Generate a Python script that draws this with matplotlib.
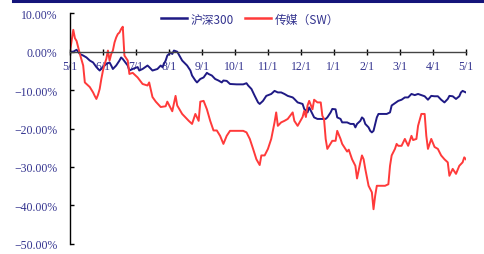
# -*- coding: utf-8 -*-
#####################################################################
# MODULES
import matplotlib
matplotlib.use('Agg')
import matplotlib.pyplot as plt
from matplotlib.lines import Line2D
from matplotlib.ticker import FuncFormatter

#####################################################################
#  DATA (day index ~ 20 trading days per month, values in %)
#
MESES = ['5/1', '6/1', '7/1', '8/1', '9/1', '10/1', '11/1',
         '12/1', '1/1', '2/1', '3/1', '4/1', '5/1']

DIA_HS300 = [0, 2, 4, 6, 8, 10, 12, 14, 16, 18, 20, 22, 24, 25, 26, 28, 30, 31,
             32, 35, 36, 38, 41, 42, 44, 47, 48, 50, 53, 55, 56, 58, 59, 61, 62,
             63, 65, 67, 68, 71, 73, 74, 76, 77, 79, 81, 83, 84, 86, 88, 90, 92,
             93, 95, 97, 101, 105, 107, 108, 110, 112, 114, 115, 117, 119, 122,
             124, 126, 128, 130, 132, 135, 136, 138, 141, 142, 144, 145, 147,
             148, 150, 153, 155, 156, 158, 159, 161, 162, 164, 165, 168, 170,
             172, 173, 174, 176, 177, 178, 179, 181, 182, 183, 184, 185, 186,
             187, 189, 192, 194, 195, 197, 199, 201, 203, 205, 207, 209, 211,
             213, 215, 217, 219, 221, 223, 225, 227, 229, 230, 232, 234, 236,
             237, 238, 240]
HS300 = [0.0, 0.0, 0.5, -0.6, -1.0, -1.5, -2.3, -2.8, -4.0, -4.9, -4.0, -3.2,
         -2.8, -3.6, -4.5, -3.6, -2.3, -1.5, -1.9, -3.6, -4.9, -4.5, -4.0, -4.9,
         -4.5, -3.6, -4.0, -4.9, -4.5, -3.6, -4.0, -2.3, -1.0, -0.2, -0.6, 0.3,
         0.0, -1.5, -2.3, -3.6, -4.9, -6.2, -7.5, -8.0, -7.1, -6.7, -5.5, -5.8,
         -6.2, -7.1, -7.5, -8.0, -7.5, -7.6, -8.4, -8.5, -8.5, -8.2, -8.8, -9.7,
         -11.5, -13.2, -13.6, -12.8, -11.5, -11.0, -10.2, -10.6, -10.6, -11.0,
         -11.5, -11.9, -12.3, -13.2, -13.6, -14.9, -15.8, -14.5, -16.2, -17.1,
         -17.5, -17.5, -17.5, -17.1, -15.8, -14.9, -15.0, -17.1, -17.5, -18.4,
         -18.4, -18.8, -18.8, -19.7, -18.8, -18.0, -17.1, -17.5, -18.8, -19.7,
         -20.6, -21.0, -20.6, -18.8, -17.1, -16.2, -16.2, -16.2, -15.8, -14.0,
         -13.4, -12.8, -12.5, -11.9, -11.9, -11.0, -11.3, -11.0, -11.3, -11.6,
         -12.5, -11.5, -11.6, -11.6, -12.5, -13.2, -12.3, -11.5, -11.6, -12.3,
         -11.6, -10.6, -10.2, -10.6]

DIA_MIDIA = [0, 2, 3, 4, 6, 8, 9, 10, 12, 14, 15, 16, 17, 18, 19, 20, 21, 22,
             23, 24, 25, 26, 27, 28, 29, 30, 31, 32, 33, 35, 36, 38, 41, 44, 47,
             48, 50, 52, 55, 58, 59, 62, 64, 65, 68, 72, 74, 76, 78, 79, 81, 83,
             85, 87, 89, 91, 93, 95, 97, 99, 103, 105, 107, 109, 111, 113, 115,
             116, 118, 120, 122, 124, 125, 126, 128, 130, 132, 135, 136, 138,
             141, 142, 143, 144, 145, 147, 148, 150, 152, 153, 154, 155, 156,
             159, 161, 162, 164, 165, 168, 169, 171, 173, 174, 176, 177, 178,
             179, 181, 183, 184, 185, 186, 188, 191, 193, 194, 195, 197, 198,
             199, 201, 203, 205, 207, 208, 210, 211, 213, 215, 216, 217, 219,
             221, 223, 225, 227, 229, 230, 232, 234, 236, 238, 239, 240]
MIDIA = [0.0, 5.7, 3.5, 2.8, -0.6, -3.6, -8.0, -8.4, -9.2, -10.6, -11.5, -12.3,
         -11.2, -9.7, -7.1, -4.9, -3.2, -1.9, 0.3, -2.3, -0.6, 0.3, 2.4, 3.7,
         4.6, 5.0, 5.9, 6.5, -1.0, -2.3, -5.8, -5.5, -6.7, -8.4, -8.8, -8.0,
         -11.8, -13.0, -14.4, -14.2, -13.0, -15.5, -11.5, -14.0, -16.2, -18.0,
         -18.8, -16.2, -18.0, -13.0, -12.8, -15.0, -18.0, -20.5, -20.5, -21.9,
         -24.0, -21.9, -20.6, -20.6, -20.6, -20.6, -21.0, -22.7, -25.3, -28.0,
         -29.5, -27.0, -27.0, -25.3, -22.7, -18.4, -15.8, -19.3, -18.4, -18.0,
         -17.5, -15.8, -18.0, -19.3, -17.0, -15.4, -17.0, -14.0, -12.8, -15.0,
         -12.5, -13.2, -13.2, -16.7, -17.5, -22.7, -25.3, -23.2, -23.2, -20.6,
         -22.7, -24.0, -26.0, -25.5, -28.0, -29.7, -33.0, -28.8, -27.0, -28.0,
         -30.5, -34.9, -36.6, -41.0, -37.5, -34.9, -34.9, -34.9, -34.5, -29.7,
         -27.0, -25.3, -24.0, -24.5, -24.5, -22.7, -24.5, -21.9, -23.0, -22.7,
         -19.3, -16.2, -16.2, -21.9, -25.3, -22.7, -24.8, -25.3, -27.0, -28.0,
         -28.8, -32.3, -30.5, -31.8, -29.7, -28.8, -27.5, -28.0]

NOMES = ['沪深300', '传媒（SW）']

AZUL = '#1f1a85'
VERMELHO = '#ff3a3a'
TEXTO = '#33338f'


#####################################################################
def pct(v, pos):
    '''(float, int) -> str  formata o rotulo do eixo y'''
    s = '%.2f%%' % abs(v)
    if v < 0:
        s = '\u2212' + s
    return s


#-------------------------------------------------------------
def plot():
    plt.rcParams['font.family'] = ['Liberation Serif', 'Noto Sans CJK SC']

    fig = plt.figure(figsize=(4.84, 2.55), dpi=100)
    ax = fig.add_axes([0.1446, 0.040, 0.818, 0.904])

    # linhas
    ax.plot(DIA_HS300, HS300, color=AZUL, linewidth=1.4, label=NOMES[0])
    ax.plot(DIA_MIDIA, MIDIA, color=VERMELHO, linewidth=1.4, label=NOMES[1])

    # eixos
    ax.set_xlim(0, 240)
    ax.set_ylim(-50, 10)
    ax.set_yticks(range(-50, 11, 10))
    ax.yaxis.set_major_formatter(FuncFormatter(pct))
    ax.set_xticks(range(0, 241, 20))
    ax.set_xticklabels(MESES)

    ax.spines['top'].set_visible(False)
    ax.spines['right'].set_visible(False)
    ax.spines['bottom'].set_position(('data', 0))
    ax.spines['left'].set_linewidth(1.0)
    ax.spines['bottom'].set_linewidth(1.0)
    ax.spines['bottom'].set_color('#444444')

    ax.tick_params(axis='y', direction='in', length=3, width=1,
                   labelsize=8.5, labelcolor=TEXTO, pad=9)
    ax.tick_params(axis='x', direction='inout', length=4, width=1,
                   labelsize=8.5, labelcolor=TEXTO, pad=4)

    # legenda
    leg = ax.legend(loc='center', bbox_to_anchor=(0.455, 0.975), ncol=2,
                    frameon=False, fontsize=8.5, handlelength=2.2,
                    columnspacing=1.0, handletextpad=0.3)
    for t in leg.get_texts():
        t.set_color(TEXTO)
        t.set_family(['Noto Sans CJK SC', 'DejaVu Sans'])
    for h in leg.get_lines():
        h.set_linewidth(1.8)

    # linha decorativa no topo
    fig.add_artist(Line2D([0.027, 1.0], [0.993, 0.993], color='#14147a',
                          linewidth=2.2, transform=fig.transFigure))

    fig.savefig('out.png', dpi=100)


if __name__ == '__main__':
    plot()
